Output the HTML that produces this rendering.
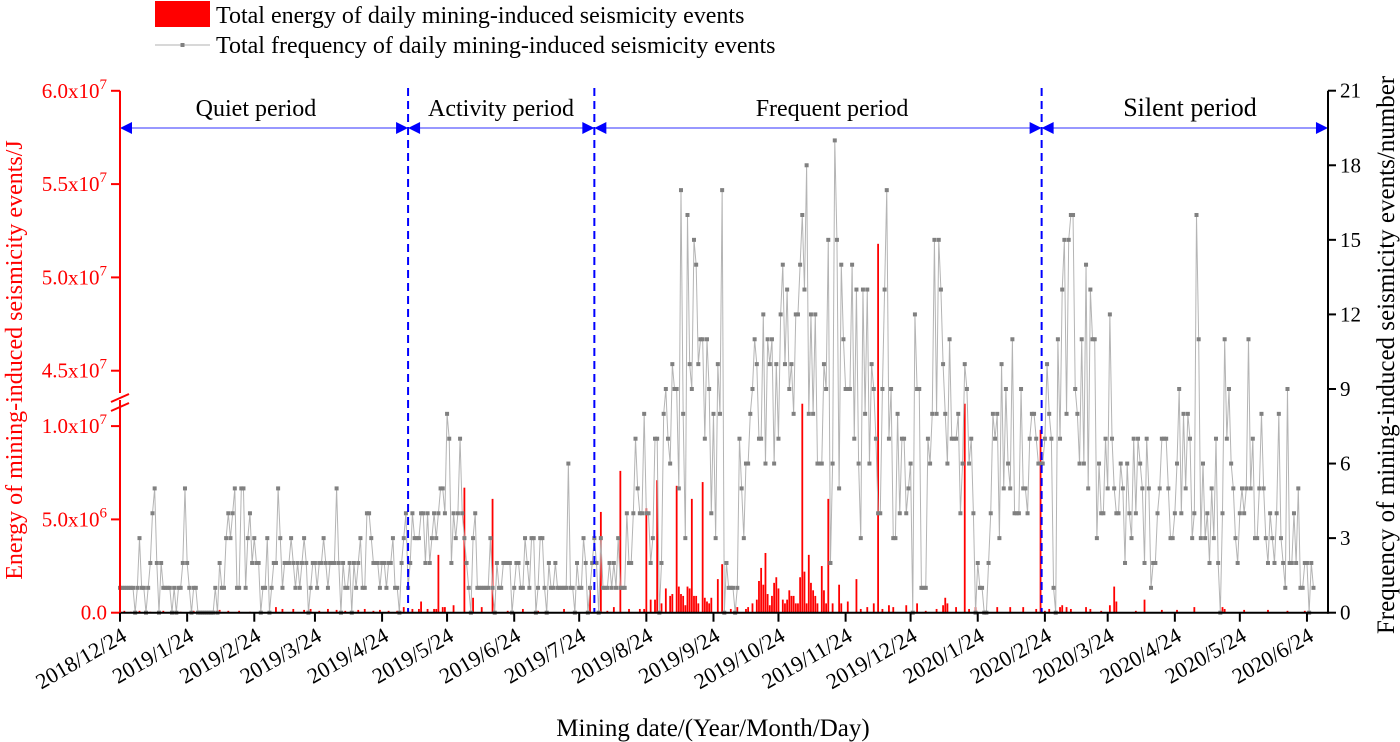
<!DOCTYPE html>
<html><head><meta charset="utf-8"><style>
html,body{margin:0;padding:0;background:#fff;}
svg{display:block;font-family:"Liberation Serif",serif;}
</style></head><body>
<svg id="chart" width="1400" height="742" viewBox="0 0 1400 742" xmlns="http://www.w3.org/2000/svg">
<g id="legend">
  <rect x="155" y="1" width="55" height="26" fill="#ff0000"/>
  <text x="216" y="23" font-size="24">Total energy of daily mining-induced seismicity events</text>
  <line x1="155" y1="45" x2="210" y2="45" stroke="#b0b0b0" stroke-width="1"/>
  <rect x="180.5" y="43" width="4" height="4" fill="#808080"/>
  <text x="216" y="53" font-size="24">Total frequency of daily mining-induced seismicity events</text>
</g>
<g id="bars"></g>
<g id="freq"></g>
<g id="periods"></g>
<g id="axes"></g>
</svg>
<script>
// ---- data ----
const freqQuiet = [1,1,1,1,1,1,1,0,1,3, 1,1,0,1,2,4,5,2,0,2, 1,1,1,1,0,1,0,1,1,2, 5,2,1,0,1,1,0,0,0,0, 0,0,0,0,1,0,2,1,1,3, 4,3,4,5,1,1,5,5,1,3, 4,2,3,2,2,0,1,1,3,0, 1,2,2,5,3,1,2,2,2,3, 2,1,2,1,2,3,2,0,1,2, 2,1,2,2,3,2,1,2,2,2, 5,2,0,2,1,1,2,0,2,1, 2,3,1,1,4,4,3,2,2,2, 1,2,2,1,2,2,3,1,1,0, 2,3,4];
const freqActivity = [1,2,4,3,3,3,4,4,2,4, 2,3,4,3,4,5,5,4,8,7, 2,4,3,4,7,4,3,2,1,0, 3,4,1,1,1,1,1,1,3,1, 0,2,1,1,2,2,2,2,0,1, 2,2,1,1,3,2,1,3,3,0, 1,3,3,1,0,2,1,1,2,1, 1,1,1,1,6,1,1,0,2,1, 1,3,2,0,1,2];
const freqFrequent = [3,2,0,3,1,1,1,2,1,2, 1,3,1,1,1,4,2,2,4,7, 5,4,4,8,4,4,2,3,7,7, 0,2,8,9,7,6,10,9,9,5, 17,8,3,16,10,9,15,14,10,11, 11,7,11,9,4,8,3,10,8,17, 0,2,1,1,1,0,1,7,5,3, 6,6,8,9,11,10,7,7,12,6, 11,10,11,6,10,7,12,14,10,13, 9,10,8,12,12,14,16,13,18,8, 12,8,12,6,
 6,6,10,9,15,2,6,19,15,5, 14,11,9,9,9,14,7,13,6,3, 13,8,13,6,10,9,7,4,4,9, 13,17,7,9,3,3,8,4,7,7, 4,5,6,0,12,9,9,1,1,1, 7,6,8,15,8,15,13,10,8,6, 11,7,7,7,8,4,6,10,9,6, 7,4,0,2,1,1,0,0,2,4, 8,7,8,3,10,5,9,6,5,11, 4,4,4,9,5,5,4,7,8,8, 7,6];
const freqSilent = [6,6,7,10,8,7,1,0,11,7, 13,15,8,15,16,16,9,8,6,11, 6,14,5,13,11,11,3,6,4,4, 7,5,12,7,5,4,4,6,5,2, 6,4,3,7,4,7,6,5,2,7, 5,1,2,2,4,5,7,7,7,5, 3,3,4,6,9,4,8,5,8,7, 3,4,16,11,3,6,3,4,2,5, 3,7,2,0,4,11,7,9,6,5, 3,2,4,5,4,5,11,5,7,3, 3,5,8,5,3,2,4,3,2,4, 8,3,2,1,9,2,2,4,2,5, 1,1,2,2,0,2,1];
// energy (x1e6 J), sparse: day index since 2018/12/24
const energyDay = [2,5,9,14,20,28,34,46,50,55,60,65,72,75,80,85,88,92,96,100,104,110,113,117,120,124,128,131,
 135,138,139,142,145,146,147,149,150,154,159,163,167,172,179,186,193,205,217,
 222,225,228,231,235,240,242,243,245,247,248,250,252,254,255,257,258,259,260,261,262,263,264,265,266,267,269,270,271,272,273,276,278,282,285,289,290,292,294,295,296,297,298,299,300,301,302,303,304,306,307,308,309,310,311,312,313,314,315,316,317,318,319,320,321,322,324,325,326,327,329,332,333,336,340,342,345,348,350,352,355,357,363,368,372,377,380,381,382,386,390,392,395,405,411,417,423,425,
 427,429,434,435,437,439,446,448,453,457,459,460,469,473,481,488,496,509,510,519,530,539,547];
const energyVal = [.1,.05,.1,.05,.1,.05,.1,.15,.1,.1,.05,.1,.3,.2,.2,.15,.2,.1,.2,.15,.1,.15,.2,.1,.15,.1,.1,.3,
 .2,.2,.6,.2,.2,.2,3.1,.3,.3,.4,6.7,.8,.3,6.1,.1,.2,.1,.2,1.3,
 5.4,.1,.3,7.6,.2,.2,.2,5.6,.7,.7,7.1,.5,1.3,.9,1.0,6.8,1.4,1.0,.9,.4,1.4,1.3,6.1,.9,.9,.5,7.0,.8,.6,.5,.8,1.8,2.6,.2,.3,.2,.3,.5,.7,1.7,2.4,1.5,3.2,1.0,.4,.9,1.6,1.9,1.3,.7,.5,.7,1.2,.9,.9,.5,.5,1.9,11.2,2.2,.5,3.1,1.6,1.2,.9,.5,2.5,1.2,.5,6.1,.5,1.5,.5,.6,1.8,.2,.3,.5,51.8,.2,.4,.3,.4,.5,.1,.2,.4,.8,.5,.3,11.2,.2,.3,.3,.3,.3,.2,9.8,
 .1,.2,.3,.4,.3,.2,.3,.2,.1,.4,1.4,.6,.1,.7,.15,.15,.3,.3,.2,.15,.15,.1,.1];
const energyTickLabels = [["0.0",""],["5.0x10","6"],["1.0x10","7"],["4.5x10","7"],["5.0x10","7"],["5.5x10","7"],["6.0x10","7"]];
const energyTickValues = [0,5,10,45,50,55,60];
const freqTicks = [0,3,6,9,12,15,18,21];
const dateTicks = ["2018/12/24","2019/1/24","2019/2/24","2019/3/24","2019/4/24","2019/5/24","2019/6/24","2019/7/24","2019/8/24","2019/9/24","2019/10/24","2019/11/24","2019/12/24","2020/1/24","2020/2/24","2020/3/24","2020/4/24","2020/5/24","2020/6/24"];
const periodNames = ["Quiet period","Activity period","Frequent period","Silent period"];
const periodBounds = [0,133,219,425.5,557.7];

// ---- scales ----
const NS="http://www.w3.org/2000/svg";
const X0=120, PXD=2.166, Y0=612.7, RIGHT=1328, TOP=90.7;
const xDay = d => X0 + d*PXD;
const yFreq = v => Y0 - v*(Y0-TOP)/21;
const BREAK_LO=11.55, BREAK_HI=43.6;
function yEnergy(v){ // v in 1e6 J
  if(v<=BREAK_LO) return Y0 - v*18.66;
  if(v<BREAK_HI) return Y0 - BREAK_LO*18.66;
  return 370.7 - (v-45)*18.66;
}
function mk(tag,attrs,parent){const e=document.createElementNS(NS,tag);for(const k in attrs)e.setAttribute(k,attrs[k]);parent.appendChild(e);return e;}
const freq = freqQuiet.concat(freqActivity,freqFrequent,freqSilent);
const base = new Date(2018,11,24);
const dayOf = s => {const p=s.split('/').map(Number);return Math.round((new Date(p[0],p[1]-1,p[2])-base)/864e5);};

// ---- energy bars ----
const gb=document.getElementById('bars');
energyDay.forEach((d,i)=>{
  const y=yEnergy(energyVal[i]);
  const r=mk('rect',{x:xDay(d)-0.9,y:y,width:1.8,height:Y0-y,fill:'#ff0000'},gb);
  
  
});

// ---- frequency line ----
const gf=document.getElementById('freq');
const pts=freq.map((v,i)=>xDay(i).toFixed(2)+','+yFreq(v).toFixed(2)).join(' ');
const pl=mk('polyline',{points:pts,fill:'none',stroke:'#b4b4b4','stroke-width':1},gf);


freq.forEach((v,i)=>{
  const m=mk('rect',{x:xDay(i)-2,y:yFreq(v)-2,width:4,height:4,fill:'#808080'},gf);
  
  
});

// ---- periods ----
const gp=document.getElementById('periods');
const labelX=[256,501,832,1190], labelSize=[24,24,24,26];
for(let i=0;i<4;i++){
  const a=xDay(periodBounds[i]), b=Math.min(xDay(periodBounds[i+1]),RIGHT);
  const ln=mk('line',{x1:a+10,y1:128,x2:b-10,y2:128,stroke:'#5a5aff','stroke-width':1.2},gp);
  
  
  const h1=mk('polygon',{points:`${a},128 ${a+12},122 ${a+12},134`,fill:'#0000ff'},gp);
  
  
  const h2=mk('polygon',{points:`${b},128 ${b-12},122 ${b-12},134`,fill:'#0000ff'},gp);
  
  
  const t=mk('text',{x:labelX[i],y:116,'font-size':labelSize[i],'text-anchor':'middle'},gp);
  t.textContent=periodNames[i];
  
  
  if(i>0){
    const dl=mk('line',{x1:a,y1:88,x2:a,y2:Y0,stroke:'#0000ff','stroke-width':2,'stroke-dasharray':'8,5'},gp);
    
    
  }
}

// ---- axes ----
const ga=document.getElementById('axes');
let e;
e=mk('line',{x1:X0,y1:Y0,x2:RIGHT,y2:Y0,stroke:'#000','stroke-width':2},ga);
 
e=mk('line',{x1:RIGHT,y1:TOP,x2:RIGHT,y2:Y0+1,stroke:'#000','stroke-width':2},ga);
 
e=mk('line',{x1:X0,y1:Y0+1,x2:X0,y2:400,stroke:'#ff0000','stroke-width':2},ga);
 
e=mk('line',{x1:X0,y1:393,x2:X0,y2:TOP,stroke:'#ff0000','stroke-width':2},ga);
 
e=mk('line',{x1:111,y1:402,x2:129,y2:394,stroke:'#ff0000','stroke-width':2},ga);
 
e=mk('line',{x1:111,y1:411,x2:129,y2:403,stroke:'#ff0000','stroke-width':2},ga);
 
energyTickValues.forEach((v,i)=>{
  const y=yEnergy(v);
  const t=mk('line',{x1:111,y1:y,x2:X0,y2:y,stroke:'#ff0000','stroke-width':2},ga);
   
  const tx=mk('text',{x:107,y:y+7,'font-size':21,fill:'#ff0000','text-anchor':'end'},ga);
   
  const lab=energyTickLabels[i];
  tx.appendChild(document.createTextNode(lab[0]));
  if(lab[1]){const s=mk('tspan',{dy:-9,'font-size':15},tx);s.textContent=lab[1];}
});
freqTicks.forEach(v=>{
  const y=yFreq(v);
  const t=mk('line',{x1:RIGHT,y1:y,x2:RIGHT+8,y2:y,stroke:'#000','stroke-width':2},ga);
   
  const tx=mk('text',{x:RIGHT+12,y:y+7,'font-size':21},ga);
  tx.textContent=String(v);
   
});
dateTicks.forEach(s=>{
  const x=xDay(dayOf(s));
  const t=mk('line',{x1:x,y1:Y0,x2:x,y2:Y0+9,stroke:'#000','stroke-width':2},ga);
   
  const tx=mk('text',{x:x+8,y:Y0+27,'font-size':22,'text-anchor':'end',transform:`rotate(-30 ${x+8} ${Y0+27})`},ga);
  tx.textContent=s;
   
});
e=mk('text',{x:713,y:736,'font-size':25,'text-anchor':'middle'},ga);
e.textContent='Mining date/(Year/Month/Day)';
 
e=mk('text',{x:0,y:0,'font-size':24,fill:'#ff0000','text-anchor':'middle',transform:'translate(22 360) rotate(-90)'},ga);
e.textContent='Energy of mining-induced seismicity events/J';
 
e=mk('text',{x:0,y:0,'font-size':25,'text-anchor':'middle',transform:'translate(1394 355) rotate(-90)'},ga);
e.textContent='Frequency of mining-induced seismicity events/number';
 
</script>
</body></html>
